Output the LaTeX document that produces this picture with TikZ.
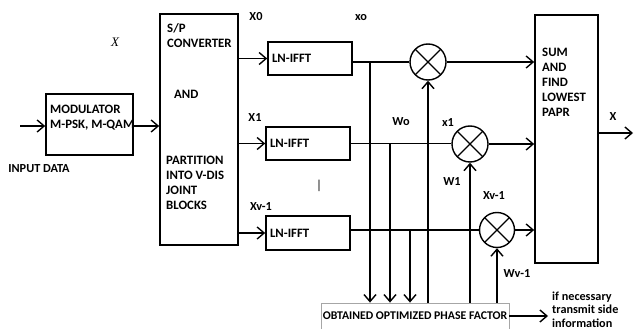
\documentclass[tikz,border=0pt]{standalone}
\usepackage{fontspec}
\setmainfont{Carlito}
\newfontfamily\serifit{Liberation Serif}
\usetikzlibrary{arrows.meta}

\begin{document}
\begin{tikzpicture}[
    x=1pt, y=-1pt,
    font=\bfseries\fontsize{12.8}{15}\selectfont,
    blk/.style={draw, line width=1.6pt, inner sep=0pt},
    fftbox/.style={blk, text width=76pt, inner xsep=4pt, minimum height=33pt, align=left},
    txt/.style={anchor=west, inner sep=0pt, align=left},
    tag/.style={inner sep=0pt, font=\bfseries\fontsize{12.3}{13}\selectfont},
    mult/.style={circle, draw, line width=1.4pt, minimum size=36pt, inner sep=0pt,
        path picture={\draw[line width=1.4pt]
            (path picture bounding box.north west) -- (path picture bounding box.south east)
            (path picture bounding box.north east) -- (path picture bounding box.south west);}},
    link/.style={-{Straight Barb[length=7pt, width=12pt]}, line width=1.4pt},
    wire/.style={line width=1.4pt}
]
\useasboundingbox (0,0) rectangle (635,329);

\node[blk, minimum width=87pt, minimum height=61pt] (mod) at (89.5,124.5) {};
\node[txt] (modtxt) at (50,118) {MODULATOR\\M-PSK, M-QAM};
\node[blk, minimum width=78pt, minimum height=231pt] (sp) at (199,129.5) {};
\node[txt] (sptop) at (167,36) {S/P\\CONVERTER};
\node[txt] (spand) at (174,94) {AND};
\node[txt] (spbot) at (166,182.5) {PARTITION\\INTO V-DIS\\JOINT\\BLOCKS};

\node[fftbox] (fft0) at (310,58.5) {LN-IFFT};
\node[fftbox] (fft1) at (308,143.5) {LN-IFFT};
\node[fftbox, minimum height=34pt] (fft2) at (308,233) {LN-IFFT};

\node[mult] (m0) at (428,62) {};
\node[mult] (m1) at (470,144) {};
\node[mult, minimum size=35pt] (m2) at (497,230) {};

\node[blk, minimum width=63pt, minimum height=248pt] (sum) at (566.5,139) {};
\node[txt] (sumtxt) at (542,82) {SUM\\AND\\FIND\\LOWEST\\PAPR};

\node[draw=gray!70, line width=0.8pt, minimum width=188pt, minimum height=32pt] (phase) at (415,319) {};
\node[inner sep=0pt, font=\bfseries\fontsize{11.8}{13}\selectfont] (ptxt) at (415,316) {OBTAINED OPTIMIZED PHASE FACTOR};
\node[txt, font=\bfseries\fontsize{12.2}{13.5}\selectfont] (info) at (552,309.5) {if necessary\\transmit side\\information};

\node[tag, font=\serifit\itshape\fontsize{13}{15}\selectfont] (xin) at (115,42) {X};
\node[tag] (inlbl) at (39,169) {INPUT DATA};
\node[tag] (lx0) at (256,17) {X0};
\node[tag] (lx1) at (255,118) {X1};
\node[tag] (lxv) at (261,207) {Xv-1};
\node[tag] (lxo) at (361,18) {xo};
\node[tag] (lwo) at (401,122) {Wo};
\node[tag] (lxa) at (448,123) {x1};
\node[tag] (lw1) at (452,182) {W1};
\node[tag] (lxb) at (494,196) {Xv-1};
\node[tag] (lwv) at (517,274) {Wv-1};
\node[tag] (lout) at (613,117) {X};
\node[tag, font=\fontsize{13}{15}\selectfont] (bar) at (319,186) {|};

\coordinate (in) at (20,126);
\coordinate (out) at (633,133);
\coordinate (t0) at (370,62);
\coordinate (t1) at (390,143.5);
\coordinate (t2) at (410,230);
\coordinate (side) at (548,316);

\draw[link] (in) -- (in -| mod.west);
\draw[link] (mod.east |- in) -- (in -| sp.west);
\draw[link] (sp.east |- fft0) -- (fft0.west);
\draw[link] (sp.east |- fft1) -- (fft1.west);
\draw[link] (sp.east |- fft2) -- (fft2.west);
\draw[wire] (fft0.east |- m0) -- (m0.west);
\draw[wire] (fft1.east) -- (m1.west |- fft1);
\draw[wire] (fft2.east |- m2) -- (m2.west);
\draw[link] (t0) -- (t0 |- phase.north);
\draw[link] (t1) -- (t1 |- phase.north);
\draw[link] (t2) -- (t2 |- phase.north);
\draw[link] (m0.south |- phase.north) -- (m0.south);
\draw[link] (m1.south |- phase.north) -- (m1.south);
\draw[link] (m2.south |- phase.north) -- (m2.south);
\draw[link] (m0.east) -- (m0 -| sum.west);
\draw[link] (m1.east) -- (m1 -| sum.west);
\draw[link] (m2.east) -- (m2 -| sum.west);
\draw[link] (sum.east |- out) -- (out);
\draw[link] (phase.east |- side) -- (side);
\end{tikzpicture}
\end{document}
